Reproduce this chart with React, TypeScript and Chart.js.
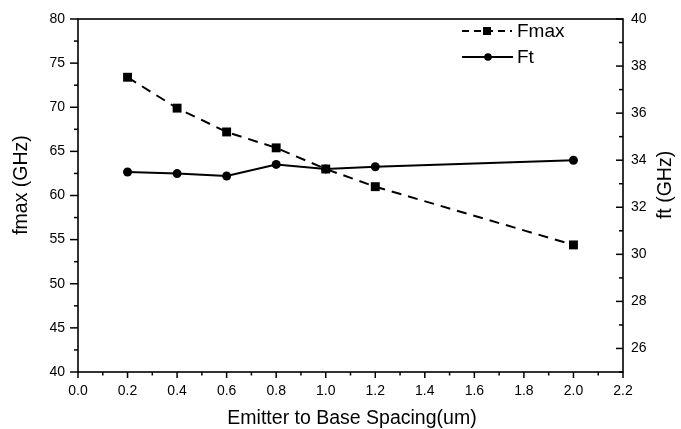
import React, { useEffect, useRef } from "react";
import { Chart, registerables } from "chart.js";

Chart.register(...registerables);

// ---- data ----
const spacing = [0.2, 0.4, 0.6, 0.8, 1.0, 1.2, 2.0];
const fmaxValues = [73.4, 69.9, 67.2, 65.4, 63.0, 61.0, 54.4];
const ftValues = [33.5, 33.43, 33.33, 33.82, 33.63, 33.72, 34.0];

const xMajorTicks = [0, 0.2, 0.4, 0.6, 0.8, 1.0, 1.2, 1.4, 1.6, 1.8, 2.0, 2.2];
const xMinorTicks = [0.1, 0.3, 0.5, 0.7, 0.9, 1.1, 1.3, 1.5, 1.7, 1.9, 2.1];
const leftMajorTicks = [40, 45, 50, 55, 60, 65, 70, 75, 80];
const leftMinorTicks = [42.5, 47.5, 52.5, 57.5, 62.5, 67.5, 72.5, 77.5];
const rightMajorTicks = [26, 28, 30, 32, 34, 36, 38, 40];
const rightMinorTicks = [25, 27, 29, 31, 33, 35, 37, 39];

const seriesNames = ["Fmax", "Ft"];
const xTitle = "Emitter to Base Spacing(um)";
const leftTitle = "fmax (GHz)";
const rightTitle = "ft (GHz)";

const FONT = "'Liberation Sans', Arial, Helvetica, sans-serif";
const DASH = [10, 7];

const decorPlugin = {
  id: "decor",
  afterDraw(chart: any) {
    const { ctx, chartArea: a, scales } = chart;
    ctx.save();
    ctx.strokeStyle = "#000";
    ctx.fillStyle = "#000";
    ctx.lineWidth = 1.6;
    ctx.setLineDash([]);
    ctx.strokeRect(a.left, a.top, a.right - a.left, a.bottom - a.top);

    const line = (x1: number, y1: number, x2: number, y2: number) => {
      ctx.beginPath();
      ctx.moveTo(x1, y1);
      ctx.lineTo(x2, y2);
      ctx.stroke();
    };
    ctx.lineWidth = 1.5;
    xMajorTicks.forEach((v) => {
      const p = scales.x.getPixelForValue(v);
      line(p, a.bottom, p, a.bottom + 6);
    });
    xMinorTicks.forEach((v) => {
      const p = scales.x.getPixelForValue(v);
      line(p, a.bottom, p, a.bottom + 3.5);
    });
    leftMajorTicks.forEach((v) => {
      const p = scales.y.getPixelForValue(v);
      line(a.left - 8, p, a.left, p);
    });
    leftMinorTicks.forEach((v) => {
      const p = scales.y.getPixelForValue(v);
      line(a.left - 4, p, a.left, p);
    });
    rightMajorTicks.forEach((v) => {
      const p = scales.y1.getPixelForValue(v);
      line(a.right - 7, p, a.right, p);
    });
    rightMinorTicks.forEach((v) => {
      const p = scales.y1.getPixelForValue(v);
      line(a.right - 4, p, a.right, p);
    });

    // titles
    ctx.font = `19.5px ${FONT}`;
    ctx.textAlign = "center";
    ctx.textBaseline = "alphabetic";
    ctx.fillText(xTitle, 352, 424);
    ctx.textBaseline = "middle";
    ctx.save();
    ctx.translate(22, 185);
    ctx.rotate(-Math.PI / 2);
    ctx.fillText(leftTitle, 0, 0);
    ctx.restore();
    ctx.save();
    ctx.translate(666, 185);
    ctx.rotate(-Math.PI / 2);
    ctx.fillText(rightTitle, 0, 0);
    ctx.restore();

    // legend
    ctx.font = `19px ${FONT}`;
    ctx.lineWidth = 2;
    ctx.textAlign = "left";
    const lx1 = 462, lx2 = 512, ly1 = 31, ly2 = 57;
    ctx.setLineDash([7, 5]);
    line(lx1, ly1, lx2, ly1);
    ctx.setLineDash([]);
    ctx.fillRect(487 - 4, ly1 - 4, 8, 8);
    ctx.fillText(seriesNames[0], 517, ly1 + 1);
    line(lx1, ly2, lx2 + 1, ly2);
    ctx.beginPath();
    ctx.arc(488, ly2, 3.8, 0, Math.PI * 2);
    ctx.fill();
    ctx.fillText(seriesNames[1], 517, ly2 + 1);
    ctx.restore();
  },
};

export default function App() {
  const ref = useRef<HTMLCanvasElement>(null);
  useEffect(() => {
    document.body.style.margin = "0";
    const canvas = ref.current!;
    const chart = new Chart(canvas, {
      type: "line",
      data: {
        datasets: [
          {
            label: seriesNames[0],
            data: spacing.map((x, i) => ({ x, y: fmaxValues[i] })),
            yAxisID: "y",
            borderColor: "#000",
            backgroundColor: "#000",
            borderWidth: 2,
            borderDash: DASH,
            pointStyle: "rect",
            pointRadius: 6.3,
            pointBorderWidth: 0,
            tension: 0,
          },
          {
            label: seriesNames[1],
            data: spacing.map((x, i) => ({ x, y: ftValues[i] })),
            yAxisID: "y1",
            borderColor: "#000",
            backgroundColor: "#000",
            borderWidth: 2,
            pointStyle: "circle",
            pointRadius: 4.5,
            pointBorderWidth: 0,
            tension: 0,
          },
        ],
      },
      options: {
        responsive: false,
        animation: false,
        devicePixelRatio: 1,
        layout: { padding: { top: 19, left: 0, right: 0, bottom: 0 } },
        plugins: { legend: { display: false }, tooltip: { enabled: false } },
        scales: {
          x: {
            type: "linear",
            min: 0,
            max: 2.2,
            afterFit: (s: any) => { s.height = 57; s.paddingLeft = 0; s.paddingRight = 0; },
            afterBuildTicks: (s: any) => { s.ticks = xMajorTicks.map((value) => ({ value })); },
            grid: { display: false, drawTicks: false },
            border: { display: false },
            ticks: {
              padding: 11,
              color: "#000",
              font: { family: FONT, size: 14 },
              callback: (v: any) => Number(v).toFixed(1),
              maxRotation: 0,
              autoSkip: false,
            },
          },
          y: {
            type: "linear",
            position: "left",
            min: 40,
            max: 80,
            afterFit: (s: any) => { s.width = 78; s.paddingTop = 0; s.paddingBottom = 0; },
            afterBuildTicks: (s: any) => { s.ticks = leftMajorTicks.map((value) => ({ value })); },
            grid: { display: false, drawTicks: false },
            border: { display: false },
            ticks: { padding: 13, color: "#000", font: { family: FONT, size: 14 } },
          },
          y1: {
            type: "linear",
            position: "right",
            min: 25,
            max: 40,
            afterFit: (s: any) => { s.width = 58; s.paddingTop = 0; s.paddingBottom = 0; },
            afterBuildTicks: (s: any) => { s.ticks = rightMajorTicks.map((value) => ({ value })); },
            grid: { display: false, drawTicks: false },
            border: { display: false },
            ticks: { padding: 8, color: "#000", font: { family: FONT, size: 14 } },
          },
        },
      },
      plugins: [decorPlugin],
    });
    return () => chart.destroy();
  }, []);
  return <canvas ref={ref} width={681} height={429} />;
}
